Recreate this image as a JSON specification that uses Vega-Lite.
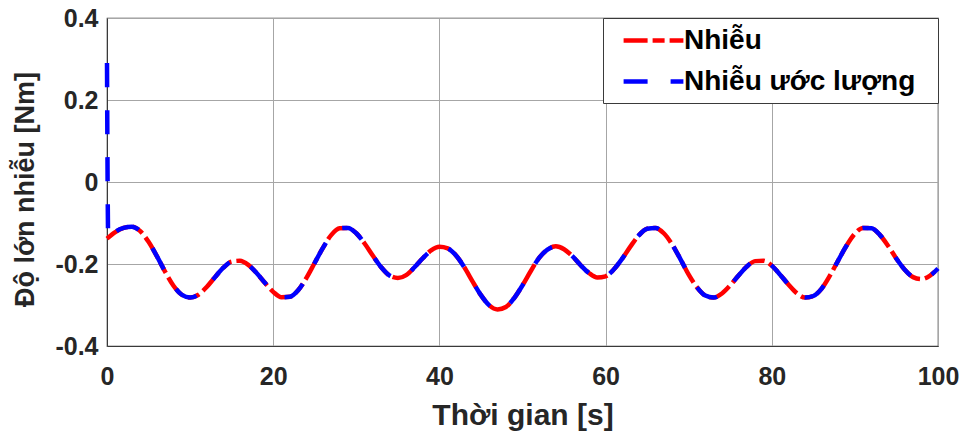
{
  "$schema": "https://vega.github.io/schema/vega-lite/v6.json",
  "width": 831,
  "height": 328,
  "autosize": {"type": "none"},
  "padding": {"left": 107, "top": 18, "right": 30, "bottom": 92},
  "background": "white",
  "view": {"stroke": "#3a3a3a", "strokeWidth": 1.2},
  "config": {
    "font": "Liberation Sans",
    "axis": {
      "labelFont": "Liberation Sans",
      "labelFontSize": 25,
      "labelFontWeight": "bold",
      "labelColor": "#262626",
      "titleFont": "Liberation Sans",
      "titleFontWeight": "bold",
      "titleColor": "#262626",
      "gridColor": "#a6a6a6",
      "gridWidth": 1,
      "domainColor": "#3a3a3a",
      "ticks": false,
      "labelFlush": false,
      "labelOverlap": false
    },
    "legend": {
      "orient": "top-right",
      "offset": 0,
      "padding": 7,
      "strokeColor": "#3a3a3a",
      "fillColor": "white",
      "cornerRadius": 0,
      "symbolType": "M-2.3,0H2.3",
      "symbolSize": 676,
      "symbolStrokeWidth": 4.5,
      "symbolOffset": 28,
      "labelFont": "Liberation Sans",
      "labelFontSize": 28,
      "labelFontWeight": "bold",
      "labelColor": "black",
      "labelOffset": 15,
      "labelLimit": 400,
      "rowPadding": 11
    }
  },
  "data": {
    "values": [
      {"t": 0, "Nhiễu": -0.138, "Nhiễu ước lượng": 0.29},
      {"t": 0.15, "Nhiễu ước lượng": -0.14},
      {"t": 1, "Nhiễu": -0.122, "Nhiễu ước lượng": -0.122},
      {"t": 2, "Nhiễu": -0.112, "Nhiễu ước lượng": -0.112},
      {"t": 3, "Nhiễu": -0.109, "Nhiễu ước lượng": -0.109},
      {"t": 4, "Nhiễu": -0.120, "Nhiễu ước lượng": -0.120},
      {"t": 5, "Nhiễu": -0.146, "Nhiễu ước lượng": -0.146},
      {"t": 6, "Nhiễu": -0.181, "Nhiễu ước lượng": -0.181},
      {"t": 7, "Nhiễu": -0.219, "Nhiễu ước lượng": -0.219},
      {"t": 8, "Nhiễu": -0.253, "Nhiễu ước lượng": -0.253},
      {"t": 9, "Nhiễu": -0.275, "Nhiễu ước lượng": -0.275},
      {"t": 10, "Nhiễu": -0.282, "Nhiễu ước lượng": -0.282},
      {"t": 11, "Nhiễu": -0.275, "Nhiễu ước lượng": -0.275},
      {"t": 12, "Nhiễu": -0.256, "Nhiễu ước lượng": -0.256},
      {"t": 13, "Nhiễu": -0.232, "Nhiễu ước lượng": -0.232},
      {"t": 14, "Nhiễu": -0.209, "Nhiễu ước lượng": -0.209},
      {"t": 15, "Nhiễu": -0.194, "Nhiễu ước lượng": -0.194},
      {"t": 16, "Nhiễu": -0.192, "Nhiễu ước lượng": -0.192},
      {"t": 17, "Nhiễu": -0.202, "Nhiễu ước lượng": -0.202},
      {"t": 18, "Nhiễu": -0.222, "Nhiễu ước lượng": -0.222},
      {"t": 19, "Nhiễu": -0.246, "Nhiễu ước lượng": -0.246},
      {"t": 20, "Nhiễu": -0.268, "Nhiễu ước lượng": -0.268},
      {"t": 21, "Nhiễu": -0.281, "Nhiễu ước lượng": -0.281},
      {"t": 22, "Nhiễu": -0.280, "Nhiễu ước lượng": -0.280},
      {"t": 23, "Nhiễu": -0.264, "Nhiễu ước lượng": -0.264},
      {"t": 24, "Nhiễu": -0.234, "Nhiễu ước lượng": -0.234},
      {"t": 25, "Nhiễu": -0.197, "Nhiễu ước lượng": -0.197},
      {"t": 26, "Nhiễu": -0.160, "Nhiễu ước lượng": -0.160},
      {"t": 27, "Nhiễu": -0.129, "Nhiễu ước lượng": -0.129},
      {"t": 28, "Nhiễu": -0.113, "Nhiễu ước lượng": -0.113},
      {"t": 29, "Nhiễu": -0.112, "Nhiễu ước lượng": -0.112},
      {"t": 30, "Nhiễu": -0.125, "Nhiễu ước lượng": -0.125},
      {"t": 31, "Nhiễu": -0.150, "Nhiễu ước lượng": -0.150},
      {"t": 32, "Nhiễu": -0.180, "Nhiễu ước lượng": -0.180},
      {"t": 33, "Nhiễu": -0.208, "Nhiễu ước lượng": -0.208},
      {"t": 34, "Nhiễu": -0.228, "Nhiễu ước lượng": -0.228},
      {"t": 35, "Nhiễu": -0.234, "Nhiễu ước lượng": -0.234},
      {"t": 36, "Nhiễu": -0.227, "Nhiễu ước lượng": -0.227},
      {"t": 37, "Nhiễu": -0.208, "Nhiễu ước lượng": -0.208},
      {"t": 38, "Nhiễu": -0.186, "Nhiễu ước lượng": -0.186},
      {"t": 39, "Nhiễu": -0.167, "Nhiễu ước lượng": -0.167},
      {"t": 40, "Nhiễu": -0.158, "Nhiễu ước lượng": -0.158},
      {"t": 41, "Nhiễu": -0.162, "Nhiễu ước lượng": -0.162},
      {"t": 42, "Nhiễu": -0.179, "Nhiễu ước lượng": -0.179},
      {"t": 43, "Nhiễu": -0.208, "Nhiễu ước lượng": -0.208},
      {"t": 44, "Nhiễu": -0.243, "Nhiễu ước lượng": -0.243},
      {"t": 45, "Nhiễu": -0.276, "Nhiễu ước lượng": -0.276},
      {"t": 46, "Nhiễu": -0.301, "Nhiễu ước lượng": -0.301},
      {"t": 47, "Nhiễu": -0.311, "Nhiễu ước lượng": -0.311},
      {"t": 48, "Nhiễu": -0.305, "Nhiễu ước lượng": -0.305},
      {"t": 49, "Nhiễu": -0.283, "Nhiễu ước lượng": -0.283},
      {"t": 50, "Nhiễu": -0.252, "Nhiễu ước lượng": -0.252},
      {"t": 51, "Nhiễu": -0.217, "Nhiễu ước lượng": -0.217},
      {"t": 52, "Nhiễu": -0.185, "Nhiễu ước lượng": -0.185},
      {"t": 53, "Nhiễu": -0.165, "Nhiễu ước lượng": -0.165},
      {"t": 54, "Nhiễu": -0.157, "Nhiễu ước lượng": -0.157},
      {"t": 55, "Nhiễu": -0.164, "Nhiễu ước lượng": -0.164},
      {"t": 56, "Nhiễu": -0.181, "Nhiễu ước lượng": -0.181},
      {"t": 57, "Nhiễu": -0.203, "Nhiễu ước lượng": -0.203},
      {"t": 58, "Nhiễu": -0.222, "Nhiễu ước lượng": -0.222},
      {"t": 59, "Nhiễu": -0.233, "Nhiễu ước lượng": -0.233},
      {"t": 60, "Nhiễu": -0.230, "Nhiễu ước lượng": -0.230},
      {"t": 61, "Nhiễu": -0.213, "Nhiễu ước lượng": -0.213},
      {"t": 62, "Nhiễu": -0.187, "Nhiễu ước lượng": -0.187},
      {"t": 63, "Nhiễu": -0.157, "Nhiễu ước lượng": -0.157},
      {"t": 64, "Nhiễu": -0.130, "Nhiễu ước lượng": -0.130},
      {"t": 65, "Nhiễu": -0.114, "Nhiễu ước lượng": -0.114},
      {"t": 66, "Nhiễu": -0.112, "Nhiễu ước lượng": -0.112},
      {"t": 67, "Nhiễu": -0.125, "Nhiễu ước lượng": -0.125},
      {"t": 68, "Nhiễu": -0.152, "Nhiễu ước lượng": -0.152},
      {"t": 69, "Nhiễu": -0.188, "Nhiễu ước lượng": -0.188},
      {"t": 70, "Nhiễu": -0.226, "Nhiễu ước lượng": -0.226},
      {"t": 71, "Nhiễu": -0.257, "Nhiễu ước lượng": -0.257},
      {"t": 72, "Nhiễu": -0.277, "Nhiễu ước lượng": -0.277},
      {"t": 73, "Nhiễu": -0.282, "Nhiễu ước lượng": -0.282},
      {"t": 74, "Nhiễu": -0.272, "Nhiễu ước lượng": -0.272},
      {"t": 75, "Nhiễu": -0.252, "Nhiễu ước lượng": -0.252},
      {"t": 76, "Nhiễu": -0.228, "Nhiễu ước lượng": -0.228},
      {"t": 77, "Nhiễu": -0.206, "Nhiễu ước lượng": -0.206},
      {"t": 78, "Nhiễu": -0.193, "Nhiễu ước lượng": -0.193},
      {"t": 79, "Nhiễu": -0.192, "Nhiễu ước lượng": -0.192},
      {"t": 80, "Nhiễu": -0.204, "Nhiễu ước lượng": -0.204},
      {"t": 81, "Nhiễu": -0.226, "Nhiễu ước lượng": -0.226},
      {"t": 82, "Nhiễu": -0.250, "Nhiễu ước lượng": -0.250},
      {"t": 83, "Nhiễu": -0.271, "Nhiễu ước lượng": -0.271},
      {"t": 84, "Nhiễu": -0.282, "Nhiễu ước lượng": -0.282},
      {"t": 85, "Nhiễu": -0.278, "Nhiễu ước lượng": -0.278},
      {"t": 86, "Nhiễu": -0.260, "Nhiễu ước lượng": -0.260},
      {"t": 87, "Nhiễu": -0.228, "Nhiễu ước lượng": -0.228},
      {"t": 88, "Nhiễu": -0.191, "Nhiễu ước lượng": -0.191},
      {"t": 89, "Nhiễu": -0.155, "Nhiễu ước lượng": -0.155},
      {"t": 90, "Nhiễu": -0.126, "Nhiễu ước lượng": -0.126},
      {"t": 91, "Nhiễu": -0.112, "Nhiễu ước lượng": -0.112},
      {"t": 92, "Nhiễu": -0.113, "Nhiễu ước lượng": -0.113},
      {"t": 93, "Nhiễu": -0.129, "Nhiễu ước lượng": -0.129},
      {"t": 94, "Nhiễu": -0.156, "Nhiễu ước lượng": -0.156},
      {"t": 95, "Nhiễu": -0.187, "Nhiễu ước lượng": -0.187},
      {"t": 96, "Nhiễu": -0.214, "Nhiễu ước lượng": -0.214},
      {"t": 97, "Nhiễu": -0.232, "Nhiễu ước lượng": -0.232},
      {"t": 98, "Nhiễu": -0.237, "Nhiễu ước lượng": -0.237},
      {"t": 99, "Nhiễu": -0.229, "Nhiễu ước lượng": -0.229},
      {"t": 100, "Nhiễu": -0.211, "Nhiễu ước lượng": -0.211}
    ]
  },
  "transform": [
    {"fold": ["Nhiễu", "Nhiễu ước lượng"], "as": ["series", "value"]},
    {"filter": "isValid(datum.value)"}
  ],
  "encoding": {
    "x": {
      "field": "t",
      "type": "quantitative",
      "scale": {"domain": [0, 100], "nice": false, "zero": false},
      "axis": {
        "title": "Thời gian [s]",
        "titleFontSize": 30,
        "values": [0, 20, 40, 60, 80, 100],
        "labelPadding": 18,
        "titlePadding": 11
      }
    },
    "y": {
      "field": "value",
      "type": "quantitative",
      "scale": {"domain": [-0.4, 0.4], "nice": false, "zero": false},
      "axis": {
        "title": "Độ lớn nhiễu [Nm]",
        "titleFontSize": 27,
        "titleY": 171,
        "values": [-0.4, -0.2, 0, 0.2, 0.4],
        "labelExpr": "datum.value == 0 ? '0' : (datum.value < 0 ? '-' + format(-datum.value, '.1f') : format(datum.value, '.1f'))",
        "labelPadding": 9,
        "titlePadding": 15
      }
    },
    "color": {
      "field": "series",
      "type": "nominal",
      "scale": {"domain": ["Nhiễu", "Nhiễu ước lượng"], "range": ["#ff0000", "#0000ff"]},
      "legend": {"title": null, "labelExpr": "datum.label + '\u00a0\u00a0\u200b'"}
    },
    "strokeDash": {
      "field": "series",
      "type": "nominal",
      "scale": {"domain": ["Nhiễu", "Nhiễu ước lượng"], "range": [[24, 5, 12, 5], [24, 23]]},
      "legend": {"title": null, "labelExpr": "datum.label + '\u00a0\u00a0\u200b'"}
    }
  },
  "layer": [
    {
      "transform": [{"filter": "datum.series == 'Nhiễu'"}],
      "mark": {"type": "line", "strokeWidth": 4.5, "interpolate": "monotone"}
    },
    {
      "transform": [{"filter": "datum.series == 'Nhiễu ước lượng'"}],
      "mark": {"type": "line", "strokeWidth": 4.5, "interpolate": "monotone"}
    }
  ]
}
